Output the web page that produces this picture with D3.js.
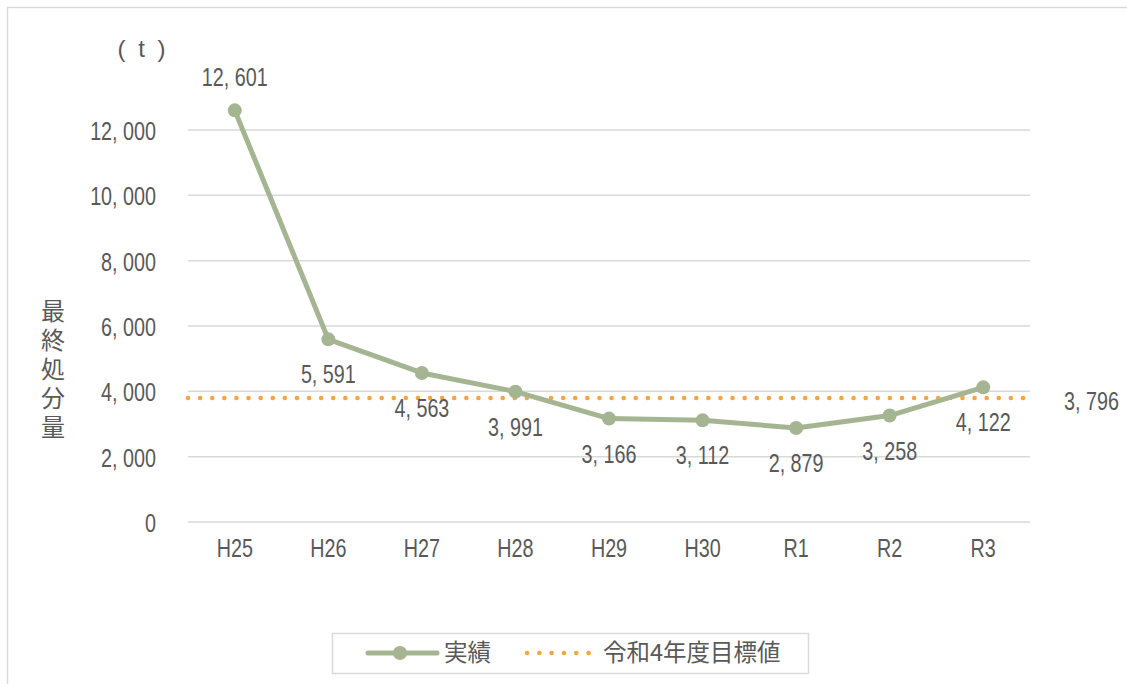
<!DOCTYPE html>
<html>
<head>
<meta charset="utf-8">
<script src="https://cdn.jsdelivr.net/npm/d3@7"></script>
<style>
  body { margin:0; background:#fff; }
  text { font-family: "Liberation Sans", sans-serif; fill:#595959; }
  .cjk { font-family: "Noto Sans CJK JP", sans-serif; }
</style>
</head>
<body>
<svg id="chart" width="1127" height="684"></svg>
<script>
var years = ["H25", "H26", "H27", "H28", "H29", "H30", "R1", "R2", "R3"];
var actual = [12601, 5591, 4563, 3991, 3166, 3112, 2879, 3258, 4122];
var target = 3796;
var yTicks = [0, 2000, 4000, 6000, 8000, 10000, 12000];

var svg = d3.select("#chart");
var plot = { left:188, right:1030, top:130, bottom:522 }; // plot area in px
var narrow = 0.79; // squeeze latin text horizontally, reference font is condensed

var fmt = function(v) { return d3.format(",")(v).replace(",", ", "); };

// condensed text: group at (x,y), text squeezed in x
var addText = function(parent, x, y, str, anchor) {
  var g = parent.append("g").attr("transform", "translate(" + x + "," + y + ")");
  g.append("text")
   .attr("transform", "scale(" + narrow + ",1)")
   .attr("text-anchor", anchor)
   .style("font-size", "25px")
   .text(str);
  return g;
}

// outer frame
svg.append("rect")
   .attr("x", 7.5).attr("y", 7.5)
   .attr("width", 1140).attr("height", 700)
   .attr("fill", "none").attr("stroke", "#d9d9d9").attr("stroke-width", 1.5);

var x = d3.scaleBand().domain(years).range([plot.left, plot.right]);
var y = d3.scaleLinear().domain([0, 12000]).range([plot.bottom, plot.top]);
var cx = function(i) { return x(years[i]) + x.bandwidth()/2; };

// gridlines
svg.selectAll(".grid")
   .data(yTicks)
   .enter()
   .append("line")
   .attr("x1", plot.left).attr("x2", plot.right)
   .attr("y1", function(d) { return y(d); })
   .attr("y2", function(d) { return y(d); })
   .attr("stroke", "#d9d9d9").attr("stroke-width", 1.5);

// y tick labels
yTicks.forEach(function(d) { addText(svg, 156, y(d) + 10, fmt(d), "end"); });

// x labels
years.forEach(function(d, i) { addText(svg, cx(i), 557, d, "middle"); });

// unit
svg.append("text")
   .attr("x", 143).attr("y", 57)
   .attr("text-anchor", "middle")
   .style("font-size", "24px")
   .style("letter-spacing", "3px")
   .text("( t )");

// y axis title, vertical
svg.append("text")
   .attr("class", "cjk")
   .attr("x", 53).attr("y", 299)
   .style("writing-mode", "vertical-rl")
   .style("letter-spacing", "5px")
   .style("font-size", "24px")
   .text("最終処分量");

// target line
svg.append("line")
   .attr("x1", plot.left).attr("x2", plot.right)
   .attr("y1", y(target)).attr("y2", y(target))
   .attr("stroke", "#f4a443").attr("stroke-width", 4.5)
   .attr("stroke-linecap", "round")
   .attr("stroke-dasharray", "0.1 12");
addText(svg, 1064, y(target) + 12, fmt(target), "start");

// actual line
var line = d3.line()
             .x(function(d,i) { return cx(i); })
             .y(function(d) { return y(d); });
svg.append("path")
   .datum(actual)
   .attr("d", line)
   .attr("fill", "none")
   .attr("stroke", "#a5b592").attr("stroke-width", 5)
   .attr("stroke-linejoin", "round");

svg.selectAll(".pt")
   .data(actual)
   .enter()
   .append("circle")
   .attr("cx", function(d,i) { return cx(i); })
   .attr("cy", function(d) { return y(d); })
   .attr("r", 7)
   .attr("fill", "#a5b592");

// data labels - first one above, the rest below
actual.forEach(function(d, i) {
  addText(svg, cx(i), i == 0 ? y(d) - 24 : y(d) + 44, fmt(d), "middle");
});

// legend
var lg = svg.append("g");
lg.append("rect")
  .attr("x", 332.5).attr("y", 633.5)
  .attr("width", 476).attr("height", 40)
  .attr("fill", "none").attr("stroke", "#d9d9d9").attr("stroke-width", 1.5);
lg.append("line")
  .attr("x1", 368).attr("x2", 437).attr("y1", 653).attr("y2", 653)
  .attr("stroke", "#a5b592").attr("stroke-width", 5).attr("stroke-linecap", "round");
lg.append("circle")
  .attr("cx", 400).attr("cy", 653).attr("r", 7).attr("fill", "#a5b592");
lg.append("text")
  .attr("class", "cjk")
  .attr("x", 444).attr("y", 661)
  .style("font-size", "23.5px")
  .text("実績");
lg.append("line")
  .attr("x1", 527).attr("x2", 590).attr("y1", 653).attr("y2", 653)
  .attr("stroke", "#f4a443").attr("stroke-width", 4.5)
  .attr("stroke-linecap", "round")
  .attr("stroke-dasharray", "0.1 12.2");
lg.append("text")
  .attr("class", "cjk")
  .attr("x", 603).attr("y", 661)
  .style("font-size", "23.5px")
  .text("令和4年度目標値");
</script>
</body>
</html>
